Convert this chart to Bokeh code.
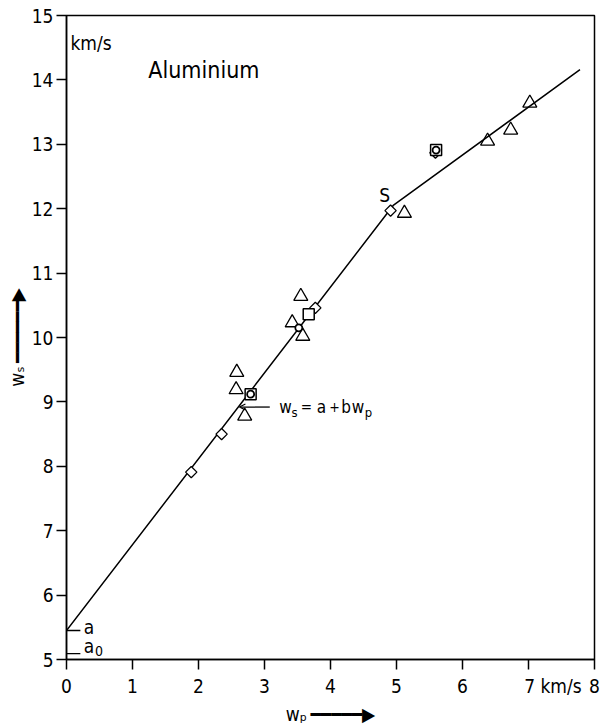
import math
from bokeh.plotting import figure
from bokeh.models import Range1d, Label, Arrow, OpenHead, FixedTicker
from bokeh.embed import file_html
from bokeh.resources import INLINE

FONT = "DejaVu Sans Condensed"

# ---- data ----
fit_wp = [0.0, 4.95, 7.78]
fit_ws = [5.45, 12.05, 14.16]

tri_wp = [2.58, 2.57, 2.70, 3.42, 3.55, 3.58, 5.12, 6.38, 6.73, 7.02]
tri_ws = [9.46, 9.19, 8.78, 10.23, 10.64, 10.02, 11.93, 13.05, 13.22, 13.64]

dia_wp = [1.89, 2.35, 3.77, 4.91, 5.59]
dia_ws = [7.91, 8.50, 10.46, 11.97, 12.87]

sq_wp = [2.79, 3.67, 5.60]
sq_ws = [9.12, 10.36, 12.91]

circ_wp = [2.79, 3.52, 5.60]
circ_ws = [9.12, 10.15, 12.91]

x_ticks = [0, 1, 2, 3, 4, 5, 6, 7, 8]
y_ticks = [5, 6, 7, 8, 9, 10, 11, 12, 13, 14, 15]
x_unit_tick = 7

a_value = 5.45
a0_value = 5.09

p = figure(width=601, height=727, output_backend="svg", toolbar_location=None,
           x_range=Range1d(0, 8), y_range=Range1d(5, 15),
           min_border_left=66, min_border_right=7, min_border_top=15, min_border_bottom=66)
p.grid.visible = False
p.outline_line_color = "black"
p.outline_line_width = 1.5
p.background_fill_color = "white"

for ax in (p.xaxis[0], p.yaxis[0]):
    ax.axis_line_width = 1.5
    ax.major_tick_line_width = 1.5
    ax.major_tick_out = 10
    ax.major_tick_in = 0
    ax.minor_tick_out = 0
    ax.minor_tick_in = 0
    ax.major_label_text_font = FONT
    ax.major_label_text_font_size = "19px"
    ax.major_label_text_color = "black"
    ax.axis_label_text_font = FONT
    ax.axis_label_text_font_size = "19px"
    ax.axis_label_text_font_style = "normal"
    ax.axis_label_text_color = "black"
p.xaxis.ticker = FixedTicker(ticks=x_ticks)
p.yaxis.ticker = FixedTicker(ticks=y_ticks)
# "7 km/s": left padding with no-break spaces keeps the "7" on its tick
p.xaxis.major_label_overrides = {
    x_unit_tick: "\u00a0" * 9 + str(x_unit_tick) + "\u00a0km/s"
}
p.xaxis.major_label_standoff = 5
p.yaxis.major_label_standoff = 3
p.xaxis.axis_label = "w\u209a\u2009\u2501\u2501\u2501\u2501\u2501\u25b6"
p.yaxis.axis_label = "w\u209b\u2009\u2501\u2501\u2501\u2501\u2501\u2501\u25b6"
p.xaxis.axis_label_standoff = 3
p.yaxis.axis_label_standoff = 1

# fitted line
p.line(fit_wp, fit_ws, line_color="black", line_width=1.5)

# markers
p.scatter(tri_wp, tri_ws, marker="triangle", size=14, fill_alpha=0,
          line_color="black", line_width=1.3)
p.scatter(dia_wp, dia_ws, marker="square", angle=math.pi / 4, size=8, fill_color="white",
          line_color="black", line_width=1.3)
p.scatter(sq_wp, sq_ws, marker="square", size=11, fill_color="white",
          line_color="black", line_width=1.5)
p.scatter(circ_wp, circ_ws, marker="circle", size=7, fill_color="white",
          line_color="black", line_width=1.8)

# a and a0 marks
p.segment(x0=[0.0, 0.0], y0=[a_value, a0_value], x1=[0.21, 0.21], y1=[a_value, a0_value],
          line_color="black", line_width=1.3)

def lab(x, y, t, size=19, align="left", angle=0, baseline="middle", **kw):
    p.add_layout(Label(x=x, y=y, text=t, text_font=FONT,
                       text_font_size=f"{size}px", text_align=align,
                       text_baseline=baseline, angle=angle, text_color="black", **kw))

# title
lab(1.24, 14.15, "Aluminium", size=23)
# S
lab(4.74, 12.22, "S", size=19)

# formula
lab(3.318, 8.916, "w", size=17, align="center")
lab(3.455, 8.839, "s", size=13, align="center")
lab(3.636, 8.916, "=", size=15, align="center")
lab(3.864, 8.916, "a", size=17, align="center")
lab(4.061, 8.916, "+", size=14, align="center")
lab(4.235, 8.916, "b", size=17, align="center")
lab(4.417, 8.916, "w", size=17, align="center")
lab(4.576, 8.839, "p", size=13, align="center")

# a, a0
lab(0.26, 5.51, "a")
lab(0.26, 5.21, "a")
lab(0.43, 5.13, "0", size=14)

# y unit (kept just inside the frame, next to the 15 tick)
lab(0.06, 14.57, "km/s", size=19)

# leader arrow to the line
p.add_layout(Arrow(x_start=3.08, y_start=8.92, x_end=2.62, y_end=8.92,
                   line_width=1.3, end=OpenHead(size=6, line_width=1.2)))

open("out.html", "w").write(file_html(p, INLINE))
